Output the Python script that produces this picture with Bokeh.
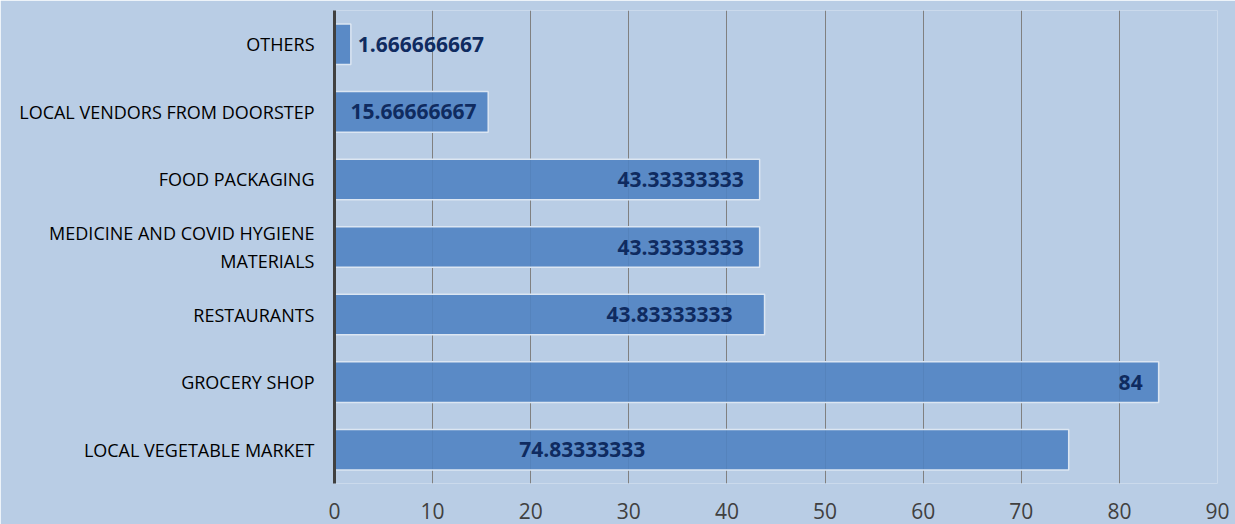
from bokeh.plotting import figure
from bokeh.models import ColumnDataSource, FixedTicker
from bokeh.embed import file_html
from bokeh.resources import INLINE
from bokeh.core.properties import value

categories = ["LOCAL VEGETABLE MARKET", "GROCERY SHOP", "RESTAURANTS",
              "MEDICINE AND COVID HYGIENE\nMATERIALS", "FOOD PACKAGING",
              "LOCAL VENDORS FROM DOORSTEP", "OTHERS"]
values = [74.83333333, 84, 43.83333333, 43.33333333, 43.33333333, 15.66666667, 1.666666667]
labels = ["74.83333333", "84", "43.83333333", "43.33333333", "43.33333333", "15.66666667", "1.666666667"]
x_ticks = [0, 10, 20, 30, 40, 50, 60, 70, 80, 90]

# label anchoring (placement style per bar, as in the original chart)
anchor_frac = [1 / 3, 1, 1, 1, 1, 0, 1]
aligns = ["center", "right", "right", "right", "right", "left", "left"]
offsets = [3, -16, -32, -16, -16, 16, 7]

src = ColumnDataSource(dict(cat=categories, val=values))
lab = ColumnDataSource(dict(cat=categories, lx=[v * f for v, f in zip(values, anchor_frac)],
                            txt=labels, al=aligns, off=offsets))

p = figure(width=1235, height=524, y_range=categories, x_range=(0, 90),
           output_backend="svg", toolbar_location=None,
           min_border_left=334, min_border_right=18, min_border_top=10, min_border_bottom=41)
p.background_fill_color = "#b9cde5"
p.border_fill_color = "#b9cde5"
p.outline_line_color = None

p.hbar(y="cat", right="val", left=0, height=0.6, source=src,
       fill_color="#5083c2", fill_alpha=0.9, line_color="#dce6f2", line_width=1.5)

p.text(x="lx", y="cat", text="txt", source=lab, text_align="al", x_offset="off",
       text_baseline="middle", text_font=value("Open Sans"), text_font_style="bold",
       text_font_size="21px", text_color="#0f2b60")

p.xaxis.ticker = FixedTicker(ticks=x_ticks)
p.xaxis.axis_line_color = None
p.xaxis.major_tick_line_color = None
p.xaxis.minor_tick_line_color = None
p.xaxis.major_label_text_font = "Open Sans"
p.xaxis.major_label_text_font_size = "21px"
p.xaxis.major_label_text_color = "#404040"
p.xaxis.major_label_standoff = 13

p.yaxis.axis_line_color = "#404040"
p.yaxis.axis_line_width = 3
p.yaxis.major_tick_line_color = None
p.yaxis.minor_tick_line_color = None
p.yaxis.major_label_text_font = "Open Sans"
p.yaxis.major_label_text_font_size = "18px"
p.yaxis.major_label_text_color = "#000000"
p.yaxis.major_label_standoff = 14

p.ygrid.grid_line_color = None
p.xgrid.grid_line_color = "#808080"
p.xgrid.grid_line_width = 1
p.y_range.range_padding = 0

open("out.html", "w").write(file_html(p, INLINE))
